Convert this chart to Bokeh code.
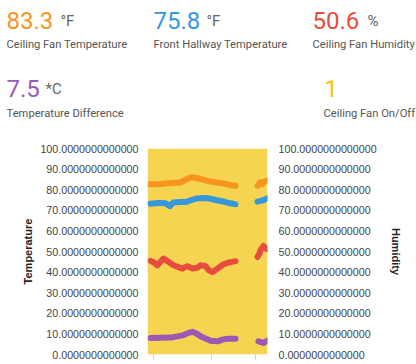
from bokeh.plotting import figure
from bokeh.layouts import column
from bokeh.models import Range1d, LinearAxis, FixedTicker, PrintfTickFormatter, ColumnDataSource
from bokeh.core.properties import value
from bokeh.embed import file_html
from bokeh.resources import INLINE

nan = float("nan")

# ---- header metrics ----
metric_values = ["83.3", "75.8", "50.6", "7.5", "1"]
metric_units = ["°F", "°F", "%", "*C", ""]
metric_labels = ["Ceiling Fan Temperature", "Front Hallway Temperature", "Ceiling Fan Humidity",
                 "Temperature Difference", "Ceiling Fan On/Off"]
metric_colors = ["#F7941D", "#3498DB", "#E74C3C", "#9B59B6", "#F1C40F"]

# ---- time series (time in minutes) ----
cf_temp_t = [3, 13, 23, 33, 38, 43, 48, 53, 58, 63, 68, 73, 78, 83, 88, 99, 110, 113, 115, 117, 120]
cf_temp = [82.6, 82.8, 83.2, 83.5, 84.8, 86.0, 85.8, 85.2, 84.5, 84.0, 83.6, 83.3, 82.8, 82.2, 81.9, nan,
           81.9, 83.6, 82.8, 84.0, 84.4]

hall_temp_t = [3, 8, 13, 18, 22, 26, 33, 38, 43, 48, 53, 58, 63, 68, 73, 78, 83, 88, 99, 110, 115, 120]
hall_temp = [73.2, 73.4, 73.6, 73.4, 72.0, 73.8, 74.0, 74.0, 74.8, 75.6, 75.9, 76.0, 75.6, 75.0, 74.5, 74.0,
             73.4, 72.9, nan, 74.2, 74.8, 75.9]

cf_hum_t = [3, 6, 10, 13, 16, 21, 26, 31, 35, 40, 45, 50, 53, 58, 61, 65, 70, 76, 81, 88, 99,
            110, 112, 113, 116, 118, 120]
cf_hum = [45.5, 44.8, 43.3, 45.0, 46.6, 45.0, 43.3, 42.4, 41.7, 42.9, 41.7, 42.2, 43.3, 43.0, 41.0, 40.0,
          41.7, 43.8, 44.6, 45.3, nan, 47.4, 49.0, 50.7, 52.7, 51.5, 51.0]

temp_diff_t = [3, 13, 23, 30, 36, 41, 45, 49, 53, 58, 63, 70, 75, 80, 88, 99, 111, 116, 120]
temp_diff = [8.0, 8.1, 8.2, 8.8, 9.4, 10.5, 11.0, 10.2, 8.9, 7.8, 6.7, 6.4, 7.2, 7.7, 7.7, nan, 6.4, 5.6, 6.7]

fan_t = [0, 120]
fan_on = [1, 1]

y_ticks = [0, 10, 20, 30, 40, 50, 60, 70, 80, 90, 100]
x_ticks = [6, 64, 108]

# ---- header figure ----
W = 416
HH = 130
h = figure(width=W, height=HH, x_range=Range1d(0, W), y_range=Range1d(HH, 0),
           output_backend="svg", toolbar_location=None, min_border=0,
           x_axis_location=None, y_axis_location=None)
h.frame_align = False
h.grid.visible = False
h.outline_line_color = None

hsrc = ColumnDataSource(dict(
    val=metric_values, unit=metric_units, lab=metric_labels, col=metric_colors,
    vx=[6, 153, 312, 6, 324], vy=[20, 20, 20, 88, 88],
    ux=[60, 206, 367, 45, 0],
    lx=[6, 153, 312, 6, 323], ly=[44, 44, 44, 113, 113],
))
h.text(x="vx", y="vy", text="val", text_color="col", source=hsrc,
       text_font=value("Roboto"), text_font_size=value("24px"), text_baseline="alphabetic")
h.text(x="ux", y="vy", text="unit", text_color="#666666", source=hsrc,
       text_font=value("Roboto"), text_font_size=value("15px"), text_baseline="alphabetic")
h.text(x="lx", y="ly", text="lab", text_color="#555555", source=hsrc,
       text_font=value("Roboto"), text_font_size=value("11.2px"), text_baseline="alphabetic")

# ---- chart figure ----
H = 364 - HH
FL, FR = 147, 267
FT, FB = 148 - HH, 354 - HH

p = figure(width=W, height=H, x_range=Range1d(0, 120), y_range=Range1d(0, 100),
           output_backend="svg", toolbar_location=None,
           min_border_left=FL, min_border_right=W - FR, min_border_top=FT, min_border_bottom=H - FB)
p.frame_align = False
p.extra_y_ranges = {"hum": Range1d(0, 100)}
p.outline_line_color = None

p.varea(x=fan_t, y1=[0 * v for v in fan_on], y2=[100 * v for v in fan_on],
        fill_color="#F1C40F", fill_alpha=0.72)

lw = 6
p.line(cf_temp_t, cf_temp, line_width=lw, color="#F7941D", line_cap="round", line_join="round")
p.line(hall_temp_t, hall_temp, line_width=lw, color="#3498DB", line_cap="round", line_join="round")
p.line(cf_hum_t, cf_hum, line_width=lw, color="#E74C3C", line_cap="round", line_join="round",
       y_range_name="hum")
p.line(temp_diff_t, temp_diff, line_width=lw, color="#9B59B6", line_cap="round", line_join="round")

right = LinearAxis(y_range_name="hum", axis_label="Humidity")
p.add_layout(right, "right")

p.yaxis[0].axis_label = "Temperature"
for ax in p.yaxis:
    ax.ticker = FixedTicker(ticks=y_ticks)
    ax.formatter = PrintfTickFormatter(format="%.13f")
    ax.axis_line_color = None
    ax.major_tick_line_color = None
    ax.minor_tick_line_color = None
    ax.major_tick_out = 0
    ax.major_tick_in = 0
    ax.major_label_text_font = "Liberation Sans"
    ax.major_label_text_font_size = "10.7px"
    ax.major_label_text_color = "#444444"
    ax.axis_label_text_font = "Liberation Sans"
    ax.axis_label_text_font_size = "11px"
    ax.axis_label_text_font_style = "bold"
    ax.axis_label_text_color = "#222222"
p.yaxis[0].major_label_standoff = 9
p.yaxis[0].axis_label_standoff = 3
right.major_label_standoff = 11
right.axis_label_standoff = 10

xa = p.xaxis[0]
xa.ticker = FixedTicker(ticks=x_ticks)
xa.axis_line_color = None
xa.major_tick_line_color = "#cccccc"
xa.major_tick_out = 5
xa.major_tick_in = 0
xa.minor_tick_line_color = None
xa.major_label_overrides = {t: "" for t in x_ticks}
xa.major_label_standoff = 0

p.xgrid.visible = False
p.ygrid.ticker = FixedTicker(ticks=y_ticks)
p.ygrid.grid_line_color = "#ffffff"
p.ygrid.grid_line_alpha = 0.35
p.ygrid.grid_line_dash = "2 2"

layout = column(h, p, spacing=0)
open("out.html", "w").write(file_html(layout, INLINE))
